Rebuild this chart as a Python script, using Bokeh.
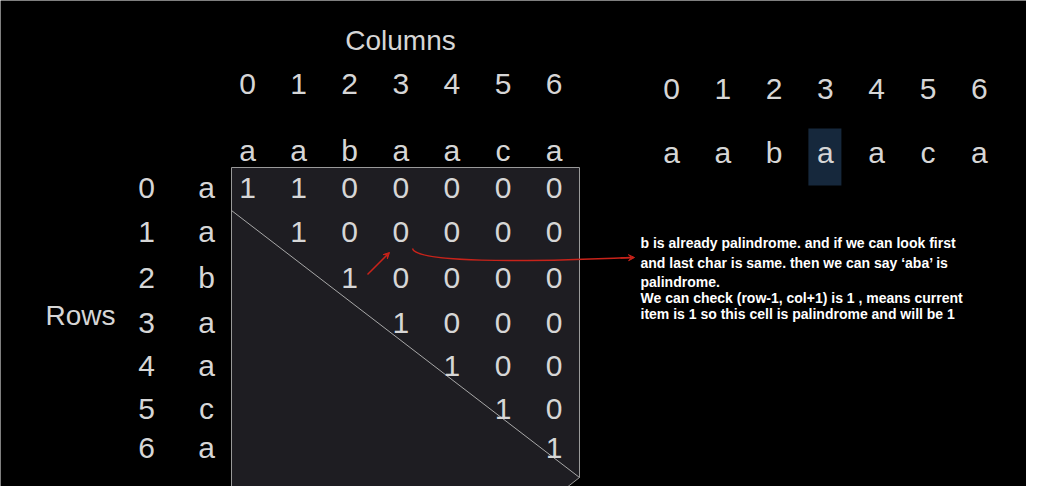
from bokeh.plotting import figure
from bokeh.models import Range1d, Arrow, VeeHead
from bokeh.core.properties import value
from bokeh.embed import file_html
from bokeh.resources import INLINE

# data
cols = ["0", "1", "2", "3", "4", "5", "6"]
chars = ["a", "a", "b", "a", "a", "c", "a"]
matrix = [
    [1, 1, 0, 0, 0, 0, 0],
    [None, 1, 0, 0, 0, 0, 0],
    [None, None, 1, 0, 0, 0, 0],
    [None, None, None, 1, 0, 0, 0],
    [None, None, None, None, 1, 0, 0],
    [None, None, None, None, None, 1, 0],
    [None, None, None, None, None, None, 1],
]
note = [
    "b is already palindrome. and if we can look first",
    "and last char is same. then we can say \u2018aba\u2019 is",
    "palindrome.",
    "We can check (row-1, col+1) is 1 , means current",
    "item is 1 so this cell is palindrome and will be 1",
]
highlight_index = 3

FONT = value("Liberation Sans")
GREY = "#d6d6d6"
SIZE = "30px"

p = figure(width=1026, height=486, output_backend="svg", toolbar_location=None,
           x_range=Range1d(0, 1026), y_range=Range1d(486, 0), min_border=0,
           background_fill_color="black", border_fill_color="black")
p.axis.visible = False
p.grid.visible = False
p.outline_line_color = None

colx = [247 + 51.1 * i for i in range(7)]
rowy = [187, 231, 277, 322, 365, 408, 447]


def txt(xs, ys, labels, size=SIZE):
    p.text(xs, ys, text=labels, text_font=FONT, text_font_size=size, text_color=GREY,
           text_align="center", text_baseline="middle")


# matrix box
p.patch([231, 579, 579, 547, 231], [167, 167, 477, 502, 502], fill_color="#1e1d22",
        line_color="#9a9a9a", line_width=1)
p.line([231, 579], [210, 477], line_color="#a8a8a8", line_width=1)

# headers
txt([400], [40], ["Columns"], "28px")
txt(colx, [83] * 7, cols)
txt(colx, [150] * 7, chars)
txt([80], [315], ["Rows"], "28px")
txt([146] * 7, rowy, cols)
txt([206] * 7, rowy, chars)

mx, my, mt = [], [], []
for r, row in enumerate(matrix):
    for c, v in enumerate(row):
        if v is not None:
            mx.append(colx[c]); my.append(rowy[r]); mt.append(str(v))
txt(mx, my, mt)

# right string
rx = [671 + 51.3 * i for i in range(7)]
hx = rx[highlight_index]
p.quad(left=[hx - 17], right=[hx + 16], top=[128], bottom=[185], fill_color="#16283c", line_color=None)
txt(rx, [88] * 7, cols)
txt(rx, [152] * 7, chars)

# arrows
p.add_layout(Arrow(x_start=367, y_start=274, x_end=389, y_end=252, line_color="#c8231a",
                   line_width=1.5, end=VeeHead(size=6, fill_color="#c8231a", line_color="#c8231a")))
p.bezier(x0=[412], y0=[248], x1=[630], y1=[257], cx0=[415], cy0=[262], cx1=[520], cy1=[262],
         line_color="#c8231a", line_width=1.5)
p.add_layout(Arrow(x_start=620, y_start=257.5, x_end=634, y_end=257, line_color="#c8231a",
                   line_width=1.5, end=VeeHead(size=6, fill_color="#c8231a", line_color="#c8231a")))

p.text([640] * 5, [242, 262, 281, 297, 313], text=note, text_font=FONT, text_font_size="14px",
       text_font_style="bold", text_color="white", text_baseline="middle")

open("out.html", "w").write(file_html(p, INLINE))
